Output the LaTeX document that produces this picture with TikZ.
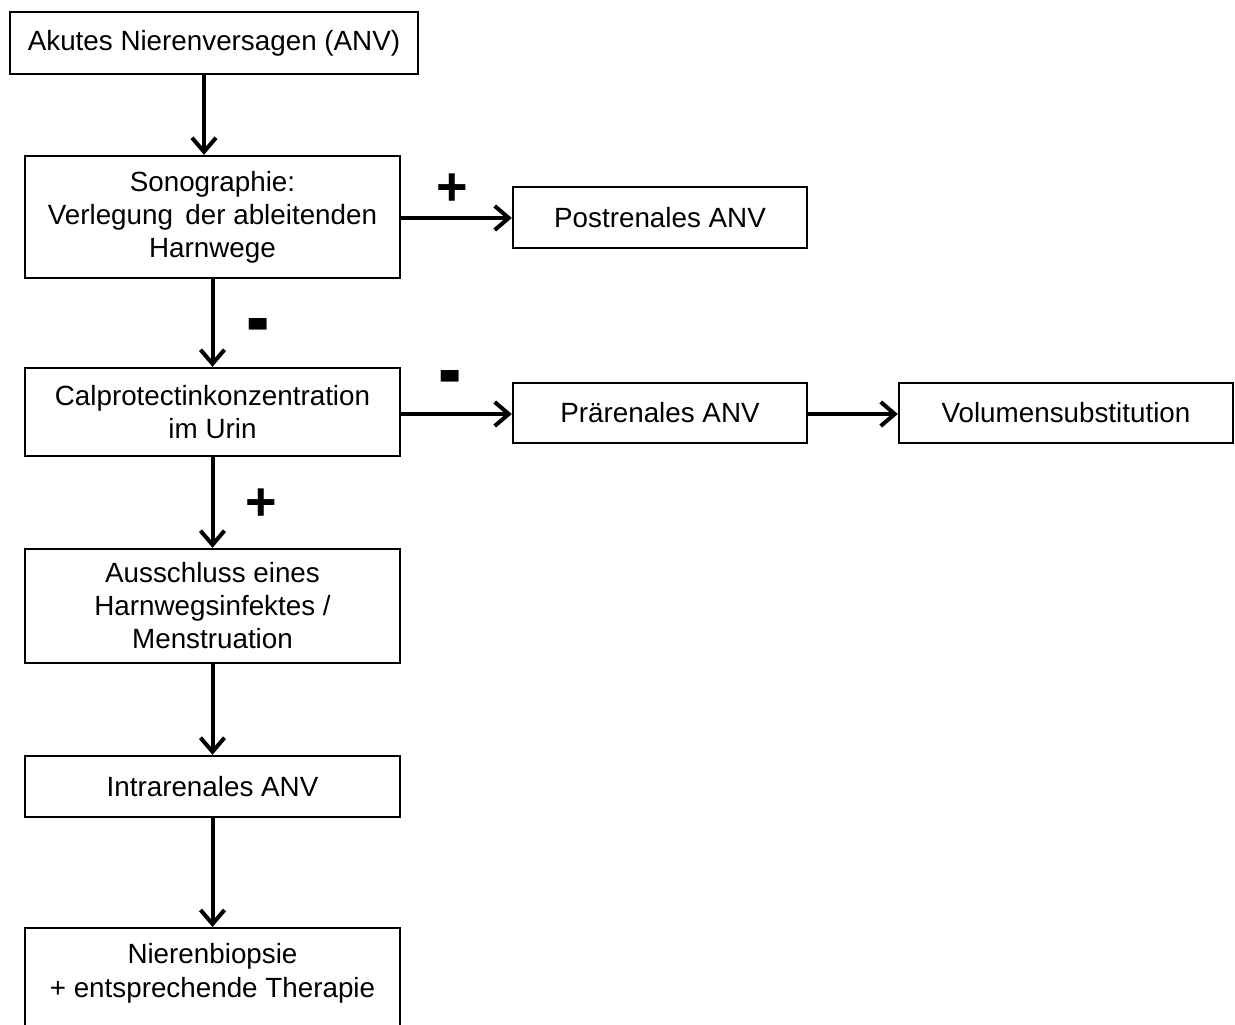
\documentclass[tikz,border=0pt]{standalone}
\usepackage{fontspec}
\setmainfont{Liberation Sans}
\usetikzlibrary{arrows.meta}
\begin{document}
\begin{tikzpicture}[x=1bp,y=-1bp,
  box/.style={draw,line width=2.4bp,align=center,inner sep=0pt,
    font=\fontsize{27.8bp}{33bp}\selectfont},
  txt/.style={align=center,inner sep=0pt,font=\fontsize{27.8bp}{34bp}\selectfont},
  arr/.style={line width=4bp,-{Straight Barb[length=14bp,width=24bp,line width=4bp]}},
  sign/.style={inner sep=0pt,font=\fontsize{54bp}{54bp}\selectfont\bfseries}]
\useasboundingbox (0,0) rectangle (1235,1025);
\clip (0,0) rectangle (1235,1025);
\fill[white] (0,0) rectangle (1235,1025);

\node[box,minimum width=408bp,minimum height=62bp] (n1) at (214,43) {Akutes Nierenversagen (ANV)};
\node[box,minimum width=375bp,minimum height=122bp] (n2) at (212.5,217) {Sonographie:\\Verlegung\, der ableitenden\\Harnwege};
\node[box,minimum width=294bp,minimum height=61bp] (post) at (660,217.5) {Postrenales ANV};
\node[box,minimum width=375bp,minimum height=88bp] (n3) at (212.5,412) {Calprotectinkonzentration\\im Urin};
\node[box,minimum width=294bp,minimum height=60bp] (pre) at (660,413) {Prärenales ANV};
\node[box,minimum width=334bp,minimum height=60bp] (vol) at (1066,413) {Volumensubstitution};
\node[box,minimum width=375bp,minimum height=114bp] (n4) at (212.5,606) {Ausschluss eines\\Harnwegsinfektes /\\Menstruation};
\node[box,minimum width=375bp,minimum height=61bp] (n5) at (212.5,786.5) {Intrarenales ANV};
\node[draw,line width=2.4bp,minimum width=375bp,minimum height=140bp,anchor=north] (n6) at (212.5,927) {};
\node[txt,anchor=north] (n6t) at (212.5,943) {Nierenbiopsie\\+ entsprechende Therapie};

\coordinate (c1) at (204,0);
\draw[arr] (n1.south -| c1) -- (n2.north -| c1);
\draw[arr] (n2.east |- 0,218) -- (post.west |- 0,218);
\draw[arr] (n2.south) -- (n3.north);
\draw[arr] (n3.east |- 0,414) -- (pre.west |- 0,414);
\draw[arr] (pre.east |- 0,414) -- (vol.west |- 0,414);
\draw[arr] (n3.south) -- (n4.north);
\draw[arr] (n4.south) -- (n5.north);
\draw[arr] (n5.south) -- (n6.north);

\node[sign] (s1) at (452,190) {+};
\node[sign,anchor=base] (s2) at (258,349) {\scalebox{1.3}[1.8]{-}};
\node[sign,anchor=base] (s3) at (450,401) {\scalebox{1.3}[1.8]{-}};
\node[sign] (s4) at (261,505) {+};
\end{tikzpicture}
\end{document}
